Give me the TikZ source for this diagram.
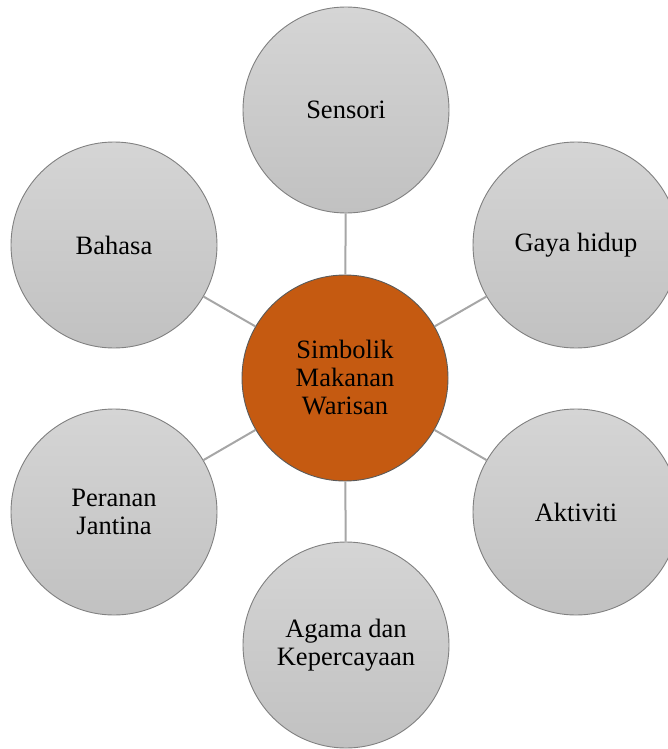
\documentclass[tikz,border=0pt]{standalone}
\usepackage{fontspec}
\setmainfont{Liberation Serif}
\definecolor{centerfill}{HTML}{C55A11}
\definecolor{outtop}{HTML}{D5D5D5}
\definecolor{outbot}{HTML}{C1C1C1}
\definecolor{ringline}{HTML}{808080}
\definecolor{linkline}{HTML}{A6A6A6}
\begin{document}
\begin{tikzpicture}[x=1pt,y=-1pt,
  outer/.style={circle,minimum size=206pt,inner sep=0pt,draw=ringline,line width=0.9pt,
    top color=outtop,bottom color=outbot,align=center,
    font=\fontsize{26.5}{28}\selectfont},
  hub/.style={circle,minimum size=206pt,inner sep=0pt,draw=ringline!70!black,line width=0.9pt,
    fill=centerfill,align=center,font=\fontsize{26.5}{28}\selectfont},
  link/.style={draw=linkline,line width=2pt}]
\useasboundingbox (0,0) rectangle (668,749);
\clip (0,0) rectangle (668,749);
\node[hub] (c) at (345,378) {Simbolik\\Makanan\\Warisan};
\node[outer] (s) at (346,110) {Sensori};
\node[outer] (g) at (576,245) {Gaya hidup};
\node[outer] (a) at (576,512) {Aktiviti};
\node[outer] (k) at (346,645) {Agama dan\\Kepercayaan};
\node[outer] (p) at (114,512) {Peranan\\Jantina};
\node[outer] (b) at (114,245) {Bahasa};
\draw[link] (c) -- (s);
\draw[link] (c) -- (g);
\draw[link] (c) -- (a);
\draw[link] (c) -- (k);
\draw[link] (c) -- (p);
\draw[link] (c) -- (b);
\end{tikzpicture}
\end{document}
